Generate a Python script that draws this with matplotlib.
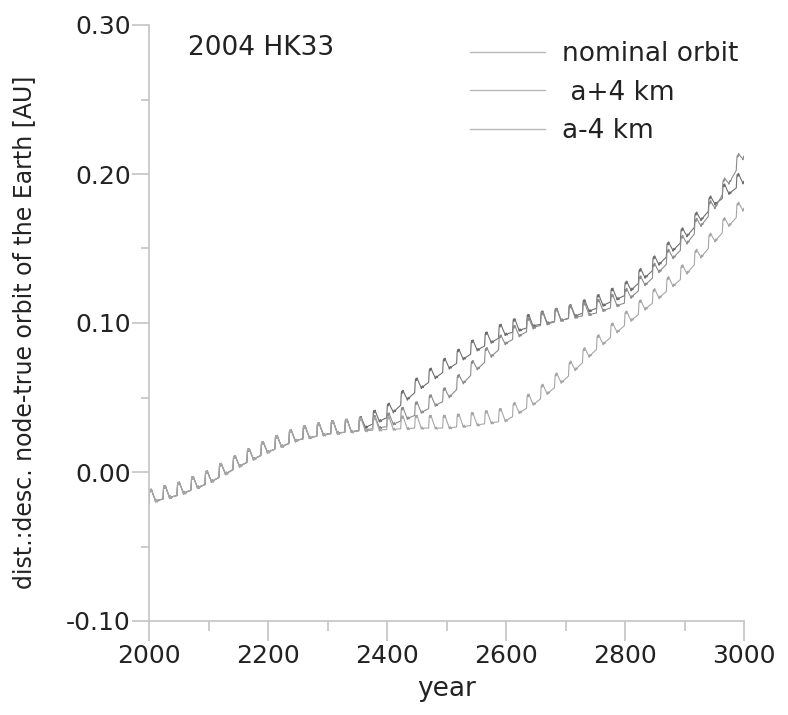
import numpy as np
import matplotlib
matplotlib.use("Agg")
import matplotlib.pyplot as plt
from matplotlib.ticker import MultipleLocator, FormatStrFormatter

# ---- data (trend values, every 50 years) ----
years = [2000, 2050, 2100, 2150, 2200, 2250, 2300, 2350, 2400, 2450, 2500,
         2550, 2600, 2650, 2700, 2750, 2800, 2850, 2900, 2950, 3000]
nominal = [-0.017, -0.012, -0.004, 0.007, 0.017, 0.025, 0.029, 0.031, 0.040,
           0.058, 0.072, 0.085, 0.096, 0.102, 0.106, 0.113, 0.122, 0.140,
           0.160, 0.183, 0.198]
a_plus4 = [-0.017, -0.012, -0.004, 0.007, 0.017, 0.025, 0.029, 0.031, 0.034,
           0.042, 0.052, 0.072, 0.090, 0.101, 0.106, 0.110, 0.117, 0.135,
           0.155, 0.180, 0.215]
a_minus4 = [-0.017, -0.012, -0.004, 0.007, 0.017, 0.025, 0.029, 0.031, 0.032,
            0.033, 0.033, 0.035, 0.038, 0.050, 0.066, 0.085, 0.102, 0.118,
            0.135, 0.158, 0.180]
# one cycle of the short-period wiggle (offset from trend, AU)
cycle_frac = [0.00, 0.04, 0.08, 0.12, 0.16, 0.20, 0.30, 0.42, 0.48, 0.54, 0.60, 0.66, 1.00]
cycle_off = [-0.0035, 0.004, 0.0055, 0.003, 0.0055, 0.004, 0.001, -0.002, -0.0045, -0.0025, -0.0045, -0.0035, -0.0035]
cycle_period = 23.5  # years

labels = ["nominal orbit", " a+4 km", "a-4 km"]
colors = ["#6e6e6e", "#8c8c8c", "#a6a6a6"]

plt.rcParams['font.family'] = ['DejaVu Sans']

fig = plt.figure(figsize=(7.88, 7.15), dpi=100)
ax = fig.add_axes([149/788, 1-621/715, (744-149)/788, (621-25)/715])

t = np.arange(2000, 3000.01, 0.5)
for ser, col in zip([nominal, a_plus4, a_minus4], colors):
    trend = np.interp(t, years, ser)
    ph = ((t - 2000) / cycle_period) % 1.0
    y = trend + np.interp(ph, cycle_frac, cycle_off)
    ax.plot(t, y, color=col, lw=0.8)

ax.set_xlim(2000, 3000)
ax.set_ylim(-0.10, 0.30)
ax.xaxis.set_major_locator(MultipleLocator(200))
ax.xaxis.set_minor_locator(MultipleLocator(100))
ax.yaxis.set_major_locator(MultipleLocator(0.1))
ax.yaxis.set_minor_locator(MultipleLocator(0.05))
ax.yaxis.set_major_formatter(FormatStrFormatter('%.2f'))
for s in ['top', 'right']:
    ax.spines[s].set_visible(False)
for s in ['left', 'bottom']:
    ax.spines[s].set_color('#c4c4c4')
    ax.spines[s].set_linewidth(1.2)
ax.tick_params(axis='x', which='major', direction='out', length=14.5, width=1.2,
               color='#c4c4c4', labelsize=18, pad=2, labelcolor='#222222')
ax.tick_params(axis='x', which='minor', direction='out', length=7, width=1.2, color='#c4c4c4')
ax.tick_params(axis='y', which='major', direction='out', length=12, width=1.2,
               color='#c4c4c4', labelsize=18, pad=1, labelcolor='#222222')
ax.tick_params(axis='y', which='minor', direction='out', length=6, width=1.2, color='#c4c4c4')

ax.set_xlabel("year", fontsize=19, color='#222222', labelpad=6)
fig.text(24/788, 1-332/715, "dist.:desc. node-true orbit of the Earth [AU]",
         rotation=90, ha='center', va='center', fontsize=17, color='#222222')
fig.text(188/788, 1-48/715, "2004 HK33", ha='left', va='center', fontsize=19, color='#222222')

handles = [plt.Line2D([], [], color='#b8b8b8', lw=1.0) for _ in labels]
leg = fig.legend(handles, labels, loc='upper left', bbox_to_anchor=(470/788, 1-41/715),
                 frameon=False, fontsize=19, handlelength=2.85, handletextpad=0.62,
                 labelspacing=0.48, borderpad=0, borderaxespad=0)
for tx in leg.get_texts():
    tx.set_color('#222222')

fig.savefig("out.png", dpi=100)
